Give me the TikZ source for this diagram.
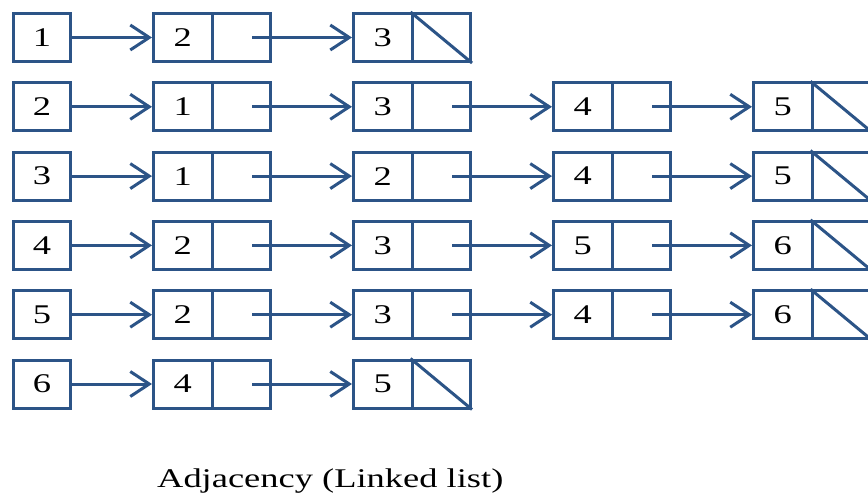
\documentclass[tikz,border=0pt]{standalone}
\usepackage{fontspec}
\setmainfont{Liberation Serif}
\usetikzlibrary{arrows.meta}
\definecolor{lnk}{RGB}{44,84,135}
\tikzset{
  cell/.style={draw=lnk, line width=3pt, minimum width=58.5pt, minimum height=48pt, inner sep=0pt, font=\fontsize{27}{30}\selectfont},
  headbox/.style={cell, minimum width=57pt},
  arr/.style={draw=lnk, line width=3pt, -{Straight Barb[length=19pt,width=25pt,line width=3pt]}},
  nullline/.style={draw=lnk, line width=3pt},
}
\newcommand{\wide}[1]{\scalebox{1.35}[1]{#1}}
\begin{document}
\begin{tikzpicture}[x=1pt,y=-1pt]
\useasboundingbox (0,0) rectangle (868,495);
\foreach \r/\lst in {1/{2,3}, 2/{1,3,4,5}, 3/{1,2,4,5}, 4/{2,3,5,6}, 5/{2,3,4,6}, 6/{4,5}} {
  \pgfmathsetmacro{\yy}{37.5+69.3*(\r-1)}
  \node[headbox] (h\r) at (42,\yy) {\wide{\r}};
  \foreach \v [count=\c from 0] in \lst {
    \pgfmathsetmacro{\L}{152+200*\c}
    \node[cell] (d\r-\c) at (\L+30.75,\yy) {\wide{\v}};
    \node[cell] (p\r-\c) at (\L+89.25,\yy) {};
    \ifnum\c=0
      \draw[arr] (h\r.east) -- (d\r-\c.west);
    \else
      \pgfmathtruncatemacro{\pc}{\c-1}
      \draw[arr] ([xshift=10.75pt]p\r-\pc.center) -- (d\r-\c.west);
    \fi
    \xdef\lastc{\c}
  }
  \draw[nullline] (p\r-\lastc.north west) -- (p\r-\lastc.south east);
}
\node[anchor=base west, inner sep=0pt, font=\fontsize{27}{30}\selectfont] (cap) at (157,487) {\wide{Adjacency (Linked list)}};
\end{tikzpicture}
\end{document}
